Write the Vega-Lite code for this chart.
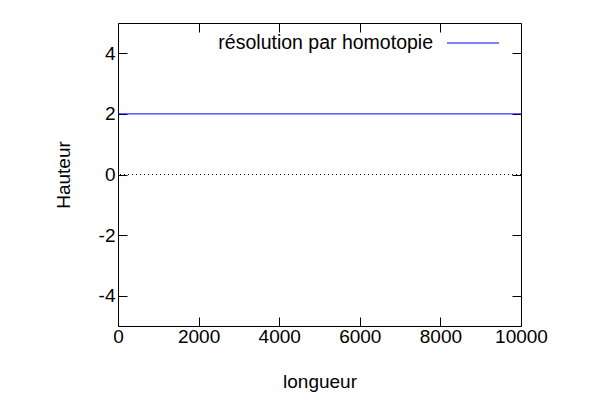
{
  "$schema": "https://vega.github.io/schema/vega-lite/v6.json",
  "width": 403,
  "height": 303,
  "autosize": {"type": "none"},
  "padding": {"left": 118, "top": 23, "right": 79, "bottom": 74},
  "background": "white",
  "config": {
    "font": "Liberation Sans",
    "view": {"stroke": "black", "strokeWidth": 1},
    "axis": {
      "domain": false,
      "grid": false,
      "tickSize": -9,
      "tickColor": "black",
      "tickWidth": 1,
      "labelFont": "Liberation Sans",
      "labelFontSize": 19,
      "labelColor": "black",
      "titleFont": "Liberation Sans",
      "titleFontSize": 19,
      "titleFontWeight": "normal",
      "titleColor": "black"
    },
    "legend": {
      "labelFont": "Liberation Sans",
      "labelFontSize": 19.5,
      "labelColor": "black",
      "labelLimit": 0
    }
  },
  "datasets": {
    "series": [
      {"longueur": 0, "hauteur": 2, "courbe": "résolution par homotopie"},
      {"longueur": 10000, "hauteur": 2, "courbe": "résolution par homotopie"}
    ],
    "zero": [{"hauteur": 0}]
  },
  "resolve": {"axis": {"x": "independent", "y": "independent"}},
  "layer": [
    {
      "data": {"name": "zero"},
      "mark": {"type": "rule", "color": "black", "strokeWidth": 1, "strokeDash": [1, 3]},
      "encoding": {
        "y": {"field": "hauteur", "type": "quantitative", "axis": null}
      }
    },
    {
      "data": {"name": "series"},
      "mark": {"type": "line", "strokeWidth": 1, "clip": true},
      "encoding": {
        "x": {
          "field": "longueur", "type": "quantitative",
          "scale": {"domain": [0, 10000], "nice": false, "zero": false},
          "axis": {"orient": "bottom", "values": [0, 2000, 4000, 6000, 8000, 10000], "format": "d", "labelPadding": 10, "title": "longueur", "titlePadding": 26, "labelFlush": false, "labelOverlap": false}
        },
        "y": {
          "field": "hauteur", "type": "quantitative",
          "scale": {"domain": [-5, 5], "nice": false, "zero": false},
          "axis": {"orient": "left", "values": [-4, -2, 0, 2, 4], "labelExpr": "'' + datum.value", "labelPadding": 12, "title": "Hauteur", "titlePadding": 25, "labelFlush": false, "labelOverlap": false}
        },
        "color": {
          "field": "courbe", "type": "nominal",
          "scale": {"range": ["#0000ff"]},
          "legend": {
            "title": null,
            "orient": "none",
            "legendX": 329,
            "legendY": -6,
            "padding": 0,
            "symbolType": "M-1,-0.02H1V0.02H-1Z",
            "symbolSize": 2704,
            "symbolStrokeWidth": 0,
            "symbolFillColor": "#0000ff",
            "labelAlign": "right",
            "labelOffset": -66,
            "labelLimit": 0,
            "encode": {"symbols": {"update": {"fill": {"value": "#0000ff"}, "stroke": {"value": "transparent"}, "strokeWidth": {"value": 0}, "opacity": {"value": 1}, "fillOpacity": {"value": 1}}}}
          }
        }
      }
    },
    {
      "data": {"name": "series"},
      "mark": {"type": "line", "opacity": 0},
      "encoding": {
        "x": {
          "field": "longueur", "type": "quantitative",
          "axis": {"orient": "top", "values": [0, 2000, 4000, 6000, 8000, 10000], "labels": false, "title": null}
        },
        "y": {
          "field": "hauteur", "type": "quantitative",
          "axis": {"orient": "right", "values": [-4, -2, 0, 2, 4], "labels": false, "title": null}
        }
      }
    }
  ]
}
